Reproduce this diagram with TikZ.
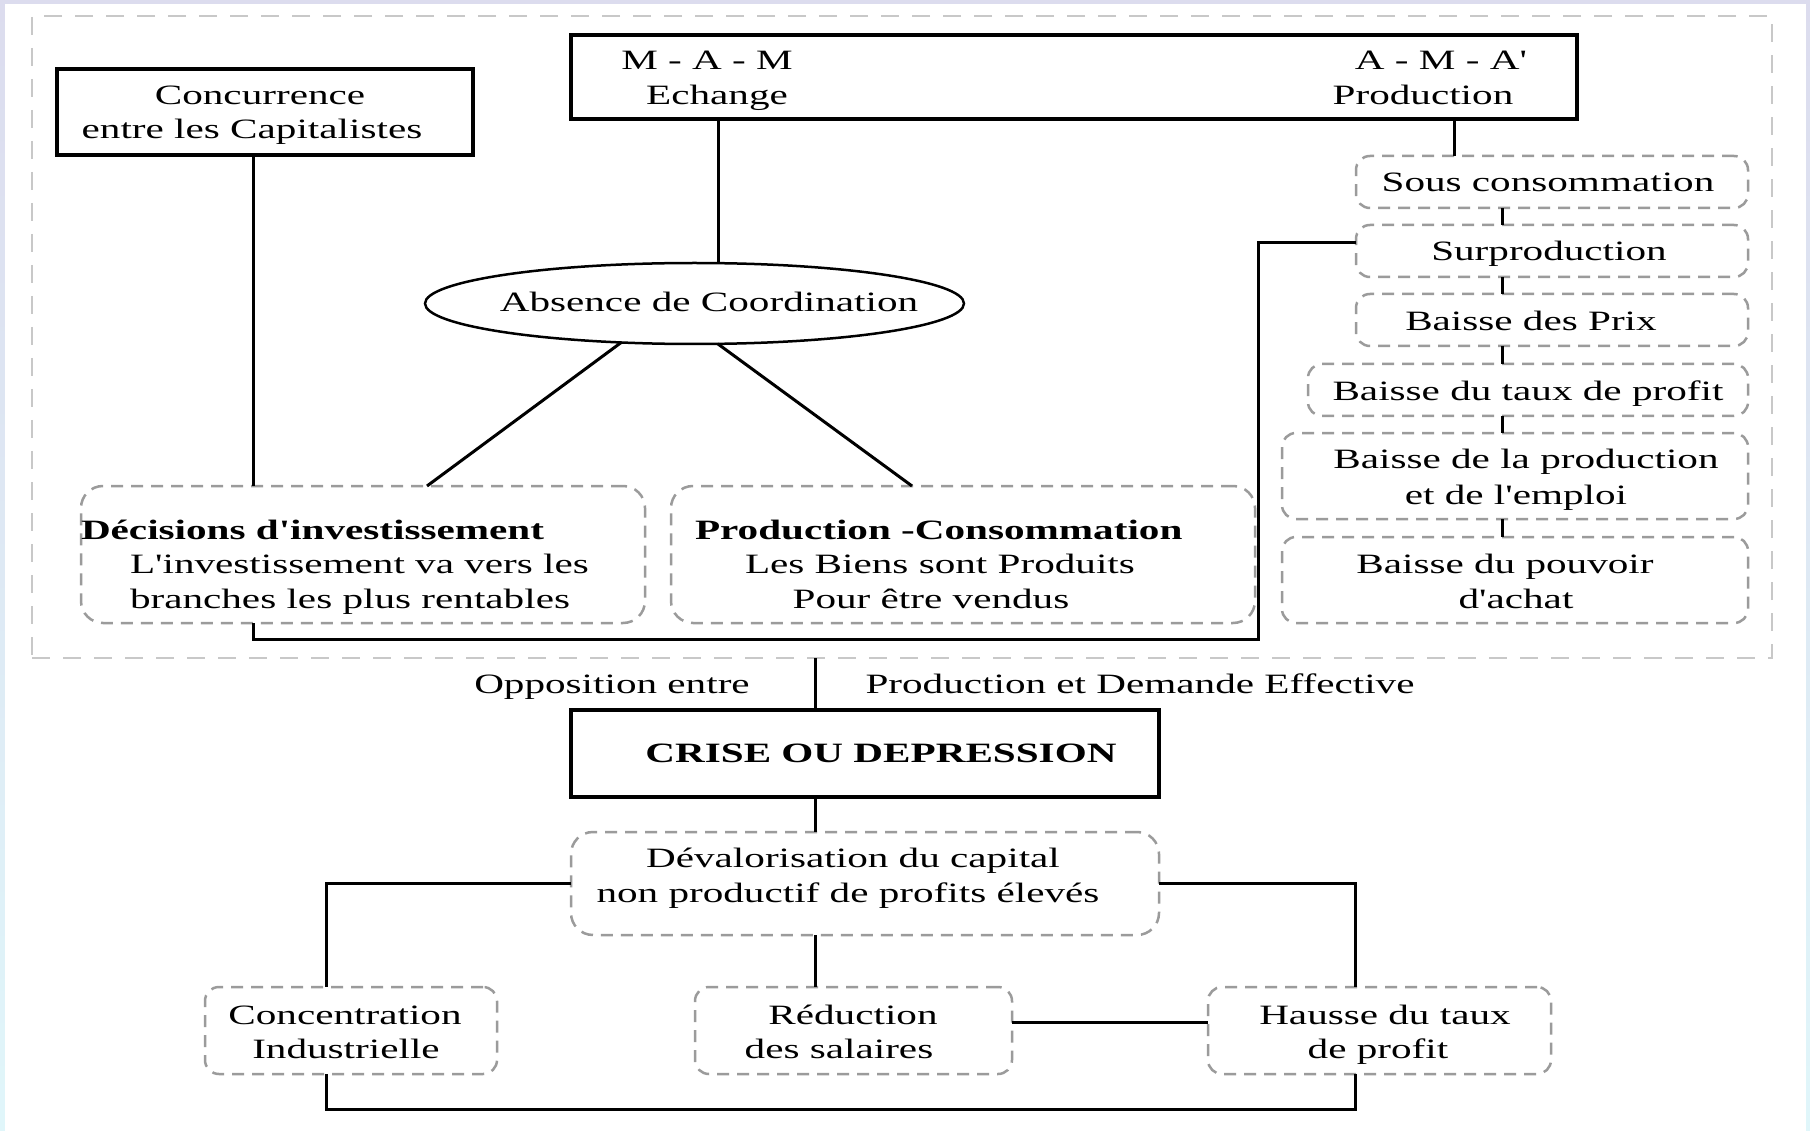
\documentclass[tikz,border=0pt]{standalone}
\usepackage{fontspec}
\setmainfont{Liberation Serif}[FakeStretch=1.47,Ligatures=TeXOff]
\usetikzlibrary{shapes.geometric}
\definecolor{bgtop}{RGB}{220,220,238}
\definecolor{bgbot}{RGB}{224,246,250}
\definecolor{dashgray}{RGB}{155,155,155}
\definecolor{framegray}{RGB}{200,200,200}
\begin{document}
\begin{tikzpicture}[x=1pt,y=-1pt,
  every node/.style={font=\fontsize{28}{34.5}\selectfont, inner sep=0pt, outer sep=0pt},
  sz/.style 2 args={minimum width=#1pt, minimum height=#2pt},
  solidbox/.style={draw=black, line width=3.5pt, rectangle},
  dashbox/.style={draw=dashgray, line width=2.5pt, dash pattern=on 12pt off 8pt, rounded corners=14pt, rectangle},
  bigdash/.style={dashbox, rounded corners=22pt},
  link/.style={draw=black, line width=3pt},
  lbl/.style={anchor=base},
  lblw/.style={anchor=base west},
]
\fill[top color=bgtop, bottom color=bgbot] (0,0) rectangle (1810,1131);
\fill[white] (5,4) rectangle (1806,1131);
\useasboundingbox (0,0) rectangle (1810,1131);

% outer dashed frame
\node[draw=framegray, line width=2pt, dash pattern=on 18pt off 13pt, sz={1740}{642}] (frame) at (902,337) {};

% top part
\node[solidbox, sz={416}{86}] (conc) at (265,112) {};
\node[lbl] (tconc1) at (260,105) {Concurrence};
\node[lbl] (tconc2) at (252,139) {entre les Capitalistes};

\node[solidbox, sz={1006}{84}] (top) at (1074,77) {};
\node[lbl] (tmam1) at (707,69.5) {M - A - M};
\node[lbl] (tmam2) at (717,105) {Echange};
\node[lbl] (tama1) at (1441,69.5) {A - M - A'};
\node[lbl] (tama2) at (1423,105) {Production};

\node[ellipse, draw=black, line width=2.5pt, sz={539}{81}] (ell) at (694.5,303.5) {};
\node[lbl] (tell) at (709,312) {Absence de Coordination};

\node[bigdash, sz={564}{137}] (dec) at (363,554.5) {};
\node[lblw] (tdec1) at (81,539.5) {\textbf{Décisions d'investissement}};
\node[lblw] (tdec2) at (130,573.5) {L'investissement va vers les};
\node[lblw] (tdec3) at (130,608.5) {branches les plus rentables};

\node[bigdash, sz={584}{137}] (prod) at (963,554.5) {};
\node[lblw] (tprod1) at (695,539.5) {\textbf{Production -Consommation}};
\node[lbl] (tprod2) at (940,573.5) {Les Biens sont Produits};
\node[lbl] (tprod3) at (931,608.5) {Pour être vendus};

% right chain
\node[dashbox, sz={392}{52}] (sous) at (1552,182) {};
\node[lbl] (tsous) at (1548,191.5) {Sous consommation};
\node[dashbox, sz={392}{52}] (surp) at (1552,251) {};
\node[lbl] (tsurp) at (1549,260.5) {Surproduction};
\node[dashbox, sz={392}{52}] (prix) at (1552,320) {};
\node[lbl] (tprix) at (1531,330.5) {Baisse des Prix};
\node[dashbox, sz={440}{52}] (taux) at (1528,390) {};
\node[lbl] (ttaux) at (1528,400.5) {Baisse du taux de profit};
\node[dashbox, sz={466}{86}] (emploi) at (1515,476) {};
\node[lbl] (templ1) at (1526,468.5) {Baisse de la production};
\node[lbl] (templ2) at (1516,504) {et de l'emploi};
\node[dashbox, sz={466}{86}] (achat) at (1515,580) {};
\node[lbl] (tach1) at (1505,573.5) {Baisse du pouvoir};
\node[lbl] (tach2) at (1516,608.5) {d'achat};

% lower part
\node[lbl] (topp) at (612,693.5) {Opposition entre};
\node[lbl] (tdem) at (1140,693.5) {Production et Demande Effective};

\node[solidbox, sz={588}{87}] (crise) at (865,753.5) {};
\node[lbl] (tcrise) at (881,762.5) {\textbf{CRISE OU DEPRESSION}};

\node[bigdash, sz={588}{103}] (dev) at (865,883.5) {};
\node[lbl] (tdev1) at (853,867.5) {Dévalorisation du capital};
\node[lbl] (tdev2) at (848,902.5) {non productif de profits élevés};

\node[dashbox, sz={292}{87}] (conc2) at (351,1030.5) {};
\node[lbl] (tcon1) at (345,1024.5) {Concentration};
\node[lbl] (tcon2) at (346,1058.5) {Industrielle};
\node[dashbox, sz={317}{87}] (red) at (853.5,1030.5) {};
\node[lbl] (tred1) at (853,1024.5) {Réduction};
\node[lbl] (tred2) at (839,1058.5) {des salaires};
\node[dashbox, sz={343}{87}] (hau) at (1379.5,1030.5) {};
\node[lbl] (thau1) at (1385,1024.5) {Hausse du taux};
\node[lbl] (thau2) at (1378,1058.5) {de profit};

% guide coordinates
\coordinate (chainx) at (1502,0);
\coordinate (bus) at (1258,639);

% connectors
\draw[link] ([xshift=-12pt]conc.south) -- ([xshift=-12pt]conc.south |- dec.north);
\draw[link] ([xshift=23.5pt]ell.north |- top.south) -- ([xshift=23.5pt]ell.north);
\draw[link] (ell.208) -- ([xshift=64pt]dec.north);
\draw[link] (ell.300) -- ([xshift=-51pt]prod.north);
\draw[link] ([xshift=-98pt]sous.north |- top.south) -- ([xshift=-98pt]sous.north);
\foreach \a/\b in {sous/surp, surp/prix, prix/taux, taux/emploi, emploi/achat}
  \draw[link] (\a.south -| chainx) -- (\b.north -| chainx);
\draw[link] ([yshift=8pt]surp.west) -| (bus) -| ([xshift=-110pt]dec.south);
\draw[link] ([xshift=-50pt]crise.north |- frame.south) -- ([xshift=-50pt]crise.north);
\draw[link] ([xshift=-50pt]crise.south) -- ([xshift=-50pt]dev.north);
\draw[link] (dev.west) -| ([xshift=-25pt]conc2.north);
\draw[link] (dev.east) -| ([xshift=-24.5pt]hau.north);
\draw[link] ([xshift=-50pt]dev.south) -- ([xshift=-50pt]dev.south |- red.north);
\draw[link] ([yshift=8.5pt]red.east) -- ([yshift=8.5pt]red.east -| hau.west);
\draw[link] ([xshift=-25pt]conc2.south) -- ++(0,35) -| ([xshift=-24.5pt]hau.south);
\end{tikzpicture}
\end{document}
